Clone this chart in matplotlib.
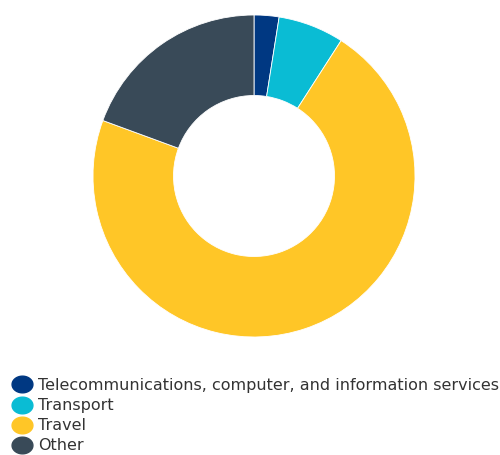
import matplotlib
matplotlib.use("Agg")
import matplotlib.pyplot as plt
from matplotlib.lines import Line2D
from matplotlib.path import Path
import numpy as np

plt.rcParams["font.family"] = ["DejaVu Sans"]

categories = ["Telecommunications, computer, and information services",
              "Transport", "Travel", "Other"]
shares = [2.5, 6.6, 71.5, 19.4]
colors = ["#003882", "#0abcd4", "#ffc627", "#394a58"]

fig = plt.figure(figsize=(5.0, 4.55), dpi=100)
ax = fig.add_axes([93 / 500, 1 - 337 / 455, 322 / 500, 322 / 455])

ax.pie(shares, colors=colors, startangle=90, counterclock=False,
       radius=1.0, wedgeprops=dict(width=0.5, edgecolor="white", linewidth=0.6))
ax.set_xlim(-1, 1)
ax.set_ylim(-1, 1)
ax.set_aspect("equal")
ax.axis("off")

# slightly wide elliptical legend marker
t = np.linspace(0, 2 * np.pi, 60)
ellipse = Path(np.column_stack([1.25 * np.cos(t), np.sin(t)]), closed=True)

handles = [Line2D([], [], linestyle="none", marker=ellipse, markersize=15,
                  markerfacecolor=c, markeredgecolor=c) for c in colors]
fig.legend(handles, categories, loc="upper left",
           bbox_to_anchor=(11 / 500, 1 - 378 / 455), frameon=False,
           fontsize=11.5, labelcolor="#333333", handlelength=1.4,
           handletextpad=0.29, labelspacing=0.32, borderpad=0,
           borderaxespad=0)

fig.savefig("out.png", dpi=100)
